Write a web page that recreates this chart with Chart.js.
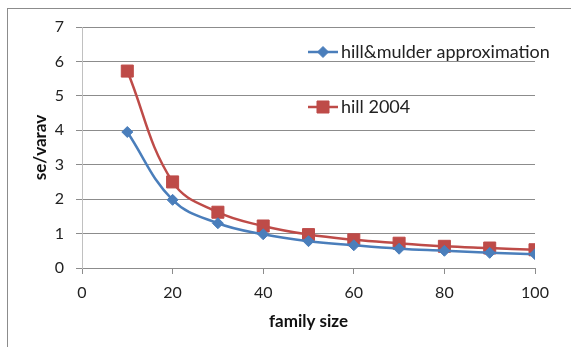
<!DOCTYPE html>
<html><head><meta charset="utf-8">
<script src="https://cdn.jsdelivr.net/npm/chart.js@4"></script>
<style>
html,body{margin:0;padding:0;background:#fff;}
#wrap{position:relative;width:571px;height:347px;}
#frame{position:absolute;left:7px;top:8px;right:0;bottom:0;border-left:1px solid #8c8c8c;border-top:1px solid #8c8c8c;pointer-events:none;}
canvas{position:absolute;left:0;top:0;}
</style></head>
<body>
<div id="wrap"><canvas id="c" width="571" height="347"></canvas><div id="frame"></div></div>
<script>
const familySize = [10,20,30,40,50,60,70,80,90,100];
const hillMulder = [3.95,1.98,1.30,0.98,0.78,0.66,0.56,0.50,0.44,0.40];
const hill2004 = [5.72,2.50,1.62,1.22,0.97,0.82,0.72,0.63,0.58,0.53];
const seriesNames = ['hill&mulder approximation','hill 2004'];
const xTitle = 'family size';
const yTitle = 'se/varav';

const FONT = 'Lato, "Liberation Sans", sans-serif';
const blue = '#4a7ebb', red = '#be4b48';

const legendPlugin = {
  id: 'insideLegend',
  afterDraw(chart) {
    const ctx = chart.ctx;
    chart.data.datasets.forEach((ds, i) => {
      const y = 52 + i * 55;
      ctx.save();
      ctx.strokeStyle = ds.borderColor;
      ctx.lineWidth = 2.5;
      ctx.beginPath(); ctx.moveTo(308, y); ctx.lineTo(338, y); ctx.stroke();
      ctx.fillStyle = ds.backgroundColor;
      ctx.lineWidth = 1;
      ctx.beginPath();
      if (ds.pointStyle === 'rect') {
        const s = Math.SQRT1_2 * ds.pointRadius;
        ctx.rect(323 - s, y - s, 2 * s, 2 * s);
      } else {
        const r = ds.pointRadius;
        ctx.moveTo(323, y - r); ctx.lineTo(323 + r, y); ctx.lineTo(323, y + r); ctx.lineTo(323 - r, y); ctx.closePath();
      }
      ctx.fill();
      ctx.stroke();
      ctx.fillStyle = '#222';
      ctx.font = '18px ' + FONT;
      ctx.textBaseline = 'middle';
      ctx.textAlign = 'left';
      ctx.fillText(ds.label, 341, y);
      ctx.restore();
    });
  }
};

new Chart(document.getElementById('c'), {
  type: 'line',
  data: {
    datasets: [
      {label: seriesNames[0], data: familySize.map((x,i)=>({x, y: hillMulder[i]})),
       borderColor: blue, backgroundColor: blue, borderWidth: 2.5, tension: 0.4,
       pointStyle: 'rectRot', pointRadius: 5.5, pointBorderWidth: 1, pointBackgroundColor: blue, pointBorderColor: blue},
      {label: seriesNames[1], data: familySize.map((x,i)=>({x, y: hill2004[i]})),
       borderColor: red, backgroundColor: red, borderWidth: 2.5, tension: 0.4,
       pointStyle: 'rect', pointRadius: 8.5, pointBorderWidth: 1, pointBackgroundColor: red, pointBorderColor: red}
    ]
  },
  options: {
    responsive: false,
    animation: false,
    layout: {padding: {left: 0, top: 27, right: 36, bottom: 0}},
    plugins: {legend: {display: false}, tooltip: {enabled: false}},
    scales: {
      x: {
        type: 'linear', min: 0, max: 100,
        afterFit(s) { s.height = 79; },
        ticks: {stepSize: 20, color: '#222', font: {family: FONT, size: 16}, padding: 9, maxRotation: 0},
        grid: {drawOnChartArea: false, drawTicks: true, tickLength: 6, color: '#8c8c8c'},
        border: {display: true, color: '#8c8c8c', width: 1},
        title: {display: true, text: xTitle, color: '#111', font: {family: FONT, size: 17, weight: 'bold'}, padding: {top: 0, bottom: 15}}
      },
      y: {
        min: 0, max: 7,
        afterFit(s) { s.width = 82; },
        ticks: {stepSize: 1, color: '#222', font: {family: FONT, size: 16}, padding: 12},
        grid: {color: '#8c8c8c', tickLength: 6, drawTicks: true},
        border: {display: true, color: '#c0c0c0', width: 1},
        title: {display: true, text: yTitle, color: '#111', font: {family: FONT, size: 17, weight: 'bold'}, padding: {top: 30, bottom: 0}}
      }
    }
  },
  plugins: [legendPlugin]
});
</script>
</body></html>
